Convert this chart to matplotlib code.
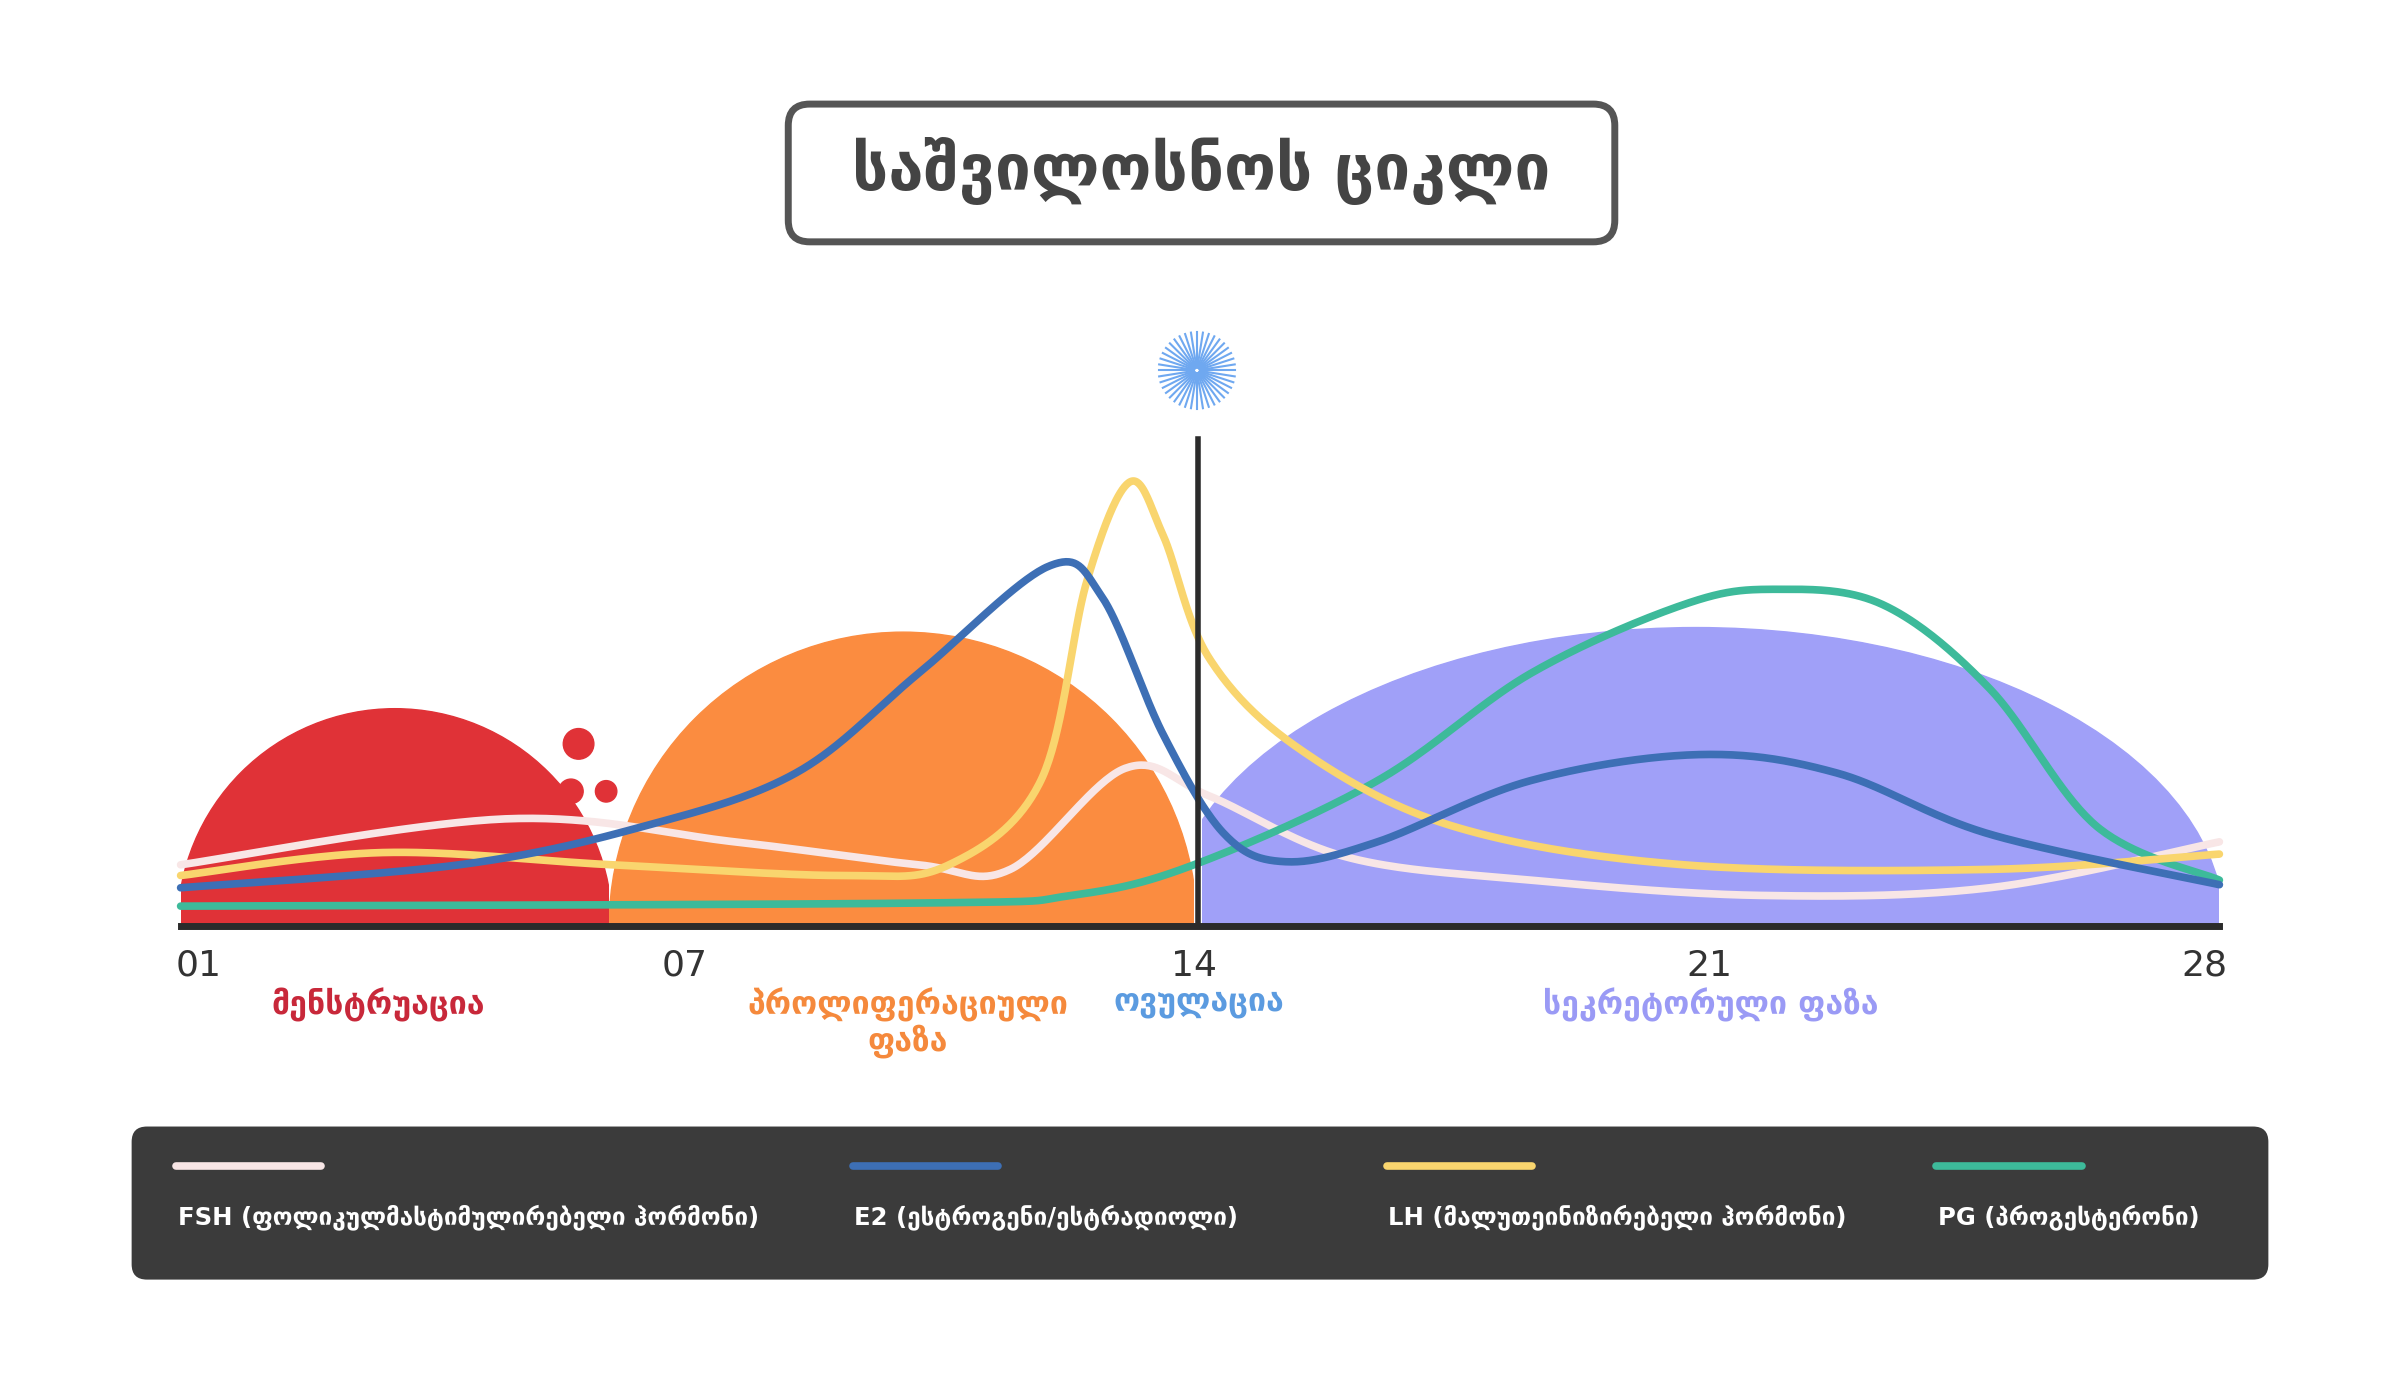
import numpy as np
import matplotlib
matplotlib.use("Agg")
import matplotlib.pyplot as plt
from matplotlib.patches import FancyBboxPatch, Circle, Ellipse, Rectangle

plt.rcParams['font.family'] = ['DejaVu Sans']

# data (display-pixel layout coords, baseline y=605)
fsh_x = [118, 330, 480, 600, 660, 735, 790, 880, 1000, 1150, 1300, 1450]
fsh_y = [565, 535, 550, 565, 568, 502, 520, 560, 575, 585, 580, 550]
e2_x = [118, 300, 420, 520, 600, 685, 720, 760, 800, 840, 900, 1000, 1110, 1200, 1300, 1450]
e2_y = [580, 565, 540, 505, 440, 370, 390, 480, 545, 563, 550, 510, 493, 505, 545, 578]
lh_x = [118, 250, 400, 550, 620, 680, 710, 738, 760, 790, 850, 950, 1100, 1300, 1450]
lh_y = [572, 557, 565, 572, 565, 510, 380, 315, 350, 430, 490, 540, 565, 568, 558]
pg_x = [118, 600, 700, 780, 900, 1000, 1100, 1160, 1230, 1300, 1370, 1450]
pg_y = [592, 590, 585, 565, 510, 440, 395, 385, 395, 450, 540, 575]
day_ticks = ["01", "07", "14", "21", "28"]
day_pos = [130, 447, 780, 1117, 1440]
phases = ["მენსტრუაცია", "პროლიფერაციული\nფაზა", "ოვულაცია", "სეკრეტორული ფაზა"]
phase_x = [247, 593, 783, 1118]
phase_col = ["#c8283a", "#f5893c", "#5b9be0", "#9a9af5"]
legend_labels = ["FSH (ფოლიკულმასტიმულირებელი ჰორმონი)", "E2 (ესტროგენი/ესტრადიოლი)",
                 "LH (მალუთეინიზირებელი ჰორმონი)", "PG (პროგესტერონი)"]
colors = ["#f8e6e6", "#3d6fb5", "#f9d56e", "#3dba9a"]
legend_x = [115, 557, 906, 1265]

def smooth(xs, ys, n=40):
    xs = np.array(xs, float); ys = np.array(ys, float)
    P = np.column_stack([xs, ys])
    P = np.vstack([P[0], P, P[-1]])
    out = []
    for i in range(1, len(P) - 2):
        p0, p1, p2, p3 = P[i-1], P[i], P[i+1], P[i+2]
        t = np.linspace(0, 1, n)[:, None]
        out.append(0.5 * ((2*p1) + (-p0+p2)*t + (2*p0-5*p1+4*p2-p3)*t**2 + (-p0+3*p1-3*p2+p3)*t**3))
    return np.vstack(out)

W = 1568
H = 1390 / 2400 * W
fig = plt.figure(figsize=(24, 13.9), dpi=100)
ax = fig.add_axes([0, 0, 1, 1])
ax.set_xlim(0, W); ax.set_ylim(H, 0); ax.axis('off')

base = 605
red = Circle((258, base), 142, color="#e03237", zorder=1)
ax.add_patch(red); red.set_clip_path(Rectangle((118, 0), 280, base, transform=ax.transData))
org = Circle((590, base), 192, color="#fb8c40", zorder=1)
ax.add_patch(org); org.set_clip_path(Rectangle((398, 0), 382, base, transform=ax.transData))
pur = Ellipse((1108, base), 690, 390, color="#a0a0f8", zorder=1)
ax.add_patch(pur); pur.set_clip_path(Rectangle((785, 0), 665, base, transform=ax.transData))
for (cx, cy, r) in [(378, 486, 10), (373, 517, 8), (396, 517, 7)]:
    ax.add_patch(Circle((cx, cy), r, color="#e03237", zorder=1))

for xs, ys, c in [(fsh_x, fsh_y, colors[0]), (pg_x, pg_y, colors[3]), (lh_x, lh_y, colors[2]), (e2_x, e2_y, colors[1])]:
    s = smooth(xs, ys)
    ax.plot(s[:, 0], s[:, 1], color=c, lw=5.5, solid_capstyle='round', zorder=3)

ax.plot([118, 1450], [base, base], color="#2b2b2b", lw=5, zorder=4)
ax.plot([783, 783], [287, base], color="#2b2b2b", lw=4, zorder=4)
for a in np.linspace(0, 2*np.pi, 40, endpoint=False):
    ax.plot([782 + 2*np.cos(a), 782 + 25*np.cos(a)], [242 + 2*np.sin(a), 242 + 25*np.sin(a)],
            color="#6fa8f0", lw=1.5, zorder=4)

ax.add_patch(FancyBboxPatch((515, 68), 540, 90, boxstyle="round,pad=0,rounding_size=14",
                            fc="white", ec="#555555", lw=5))
ax.text(785, 112, "საშვილოსნოს ციკლი", ha='center', va='center', fontsize=46,
        fontweight='bold', color="#444444")

for t, x in zip(day_ticks, day_pos):
    ax.text(x, 631, t, ha='center', va='center', fontsize=26, color="#333333")
for t, x, c in zip(phases, phase_x, phase_col):
    ax.text(x, 645, t, ha='center', va='top', fontsize=23, fontweight='bold', color=c, linespacing=1.1)

ax.add_patch(FancyBboxPatch((86, 736), 1396, 100, boxstyle="round,pad=0,rounding_size=10",
                            fc="#3b3b3b", ec="none"))
for t, x, c in zip(legend_labels, legend_x, colors):
    ax.plot([x, x + 95], [762, 762], color=c, lw=5.5, solid_capstyle='round')
    ax.text(x + 1, 795, t, ha='left', va='center', fontsize=17.5, fontweight='bold', color="white")

fig.savefig("out.png", dpi=100)
